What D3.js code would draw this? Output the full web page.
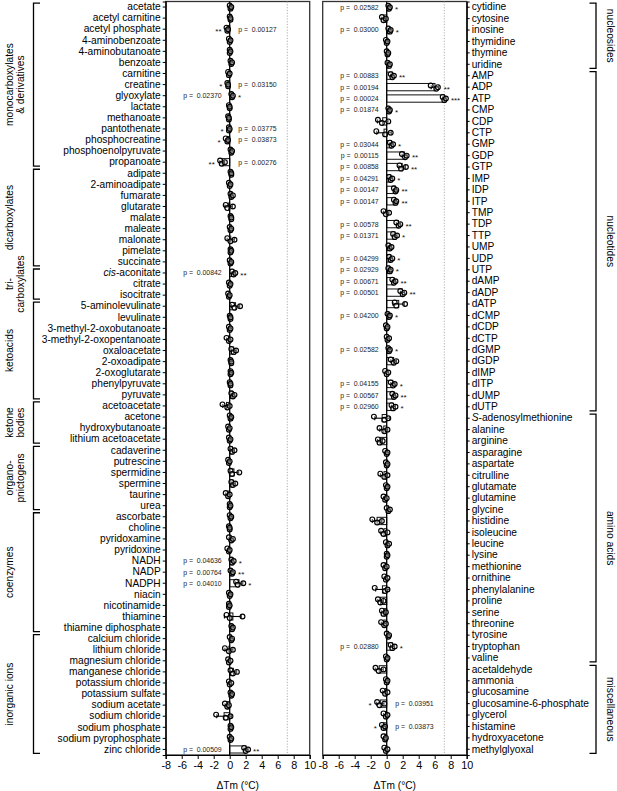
<!DOCTYPE html>
<html><head><meta charset="utf-8">
<script src="https://cdn.jsdelivr.net/npm/d3@7"></script>
<style>
body{margin:0;background:#fff}
svg{display:block}
text{font-family:"Liberation Sans",Arial,Helvetica,sans-serif}
</style>
</head><body><svg id="c" width="617" height="791"></svg>
<script>
// ---------- DATA ----------
const xTicks = [-8,-6,-4,-2,0,2,4,6,8,10];
const thresholdLine = 7.2;

const leftCompounds = ["acetate","acetyl carnitine","acetyl phosphate","4-aminobenzoate","4-aminobutanoate","benzoate","carnitine","creatine","glyoxylate","lactate","methanoate","pantothenate","phosphocreatine","phosphoenolpyruvate","propanoate",
"adipate","2-aminoadipate","fumarate","glutarate","malate","maleate","malonate","pimelate","succinate",
"cis-aconitate","citrate","isocitrate",
"5-aminolevulinate","levulinate","3-methyl-2-oxobutanoate","3-methyl-2-oxopentanoate","oxaloacetate","2-oxoadipate","2-oxoglutarate","phenylpyruvate","pyruvate",
"acetoacetate","acetone","hydroxybutanoate","lithium acetoacetate",
"cadaverine","putrescine","spermidine","spermine","taurine","urea",
"ascorbate","choline","pyridoxamine","pyridoxine","NADH","NADP","NADPH","niacin","nicotinamide","thiamine","thiamine diphosphate",
"calcium chloride","lithium chloride","magnesium chloride","manganese chloride","potassium chloride","potassium sulfate","sodium acetate","sodium chloride","sodium phosphate","sodium pyrophosphate","zinc chloride"];

const leftReplicates = [
[0.0,0.1,0.2],[0.0,0.1,0.1],[-0.4,-0.3,-0.2],[-0.1,0.0,0.1],[0.0,0.0,0.1],[0.1,0.2,0.3],[-0.2,-0.1,0.0],[-0.3,-0.2,-0.2],[0.2,0.3,0.4],[-0.1,0.0,0.0],[-0.2,-0.1,-0.1],[-0.1,-0.1,0.0],[-0.5,-0.3,-0.2],[0.1,0.2,0.3],[-1.2,-1.0,-0.6],
[0.1,0.2,0.2],[-0.1,0.0,0.1],[0.1,0.2,0.4],[-0.5,-0.3,0.4],[0.1,0.2,0.2],[0.0,0.1,0.2],[-0.3,0.1,0.6],[0.1,0.1,0.2],[0.0,0.1,0.2],
[0.3,0.5,0.7],[-0.1,0.0,0.1],[-0.2,-0.1,0.0],
[0.3,0.6,1.3],[0.0,0.1,0.1],[-0.1,0.0,0.1],[-0.4,-0.1,0.1],[0.2,0.5,0.8],[0.1,0.2,0.2],[0.1,0.1,0.2],[0.0,0.1,0.1],[0.2,0.4,0.6],
[-0.9,-0.3,0.0],[0.0,0.1,0.2],[-0.2,-0.1,0.0],[-0.1,0.0,0.1],
[0.1,0.3,0.6],[-0.2,-0.1,0.0],[0.1,0.3,1.2],[0.2,0.4,0.7],[-0.5,-0.2,0.0],[0.0,0.0,0.1],
[0.0,0.1,0.2],[-0.1,0.0,0.0],[-0.1,0.2,0.4],[-0.3,-0.1,0.0],[0.2,0.3,0.5],[0.1,0.3,0.4],[0.8,1.0,1.7],[-0.1,0.0,0.1],[-0.1,-0.1,0.0],[-0.4,0.0,1.6],[0.2,0.3,0.4],
[0.0,0.2,0.3],[-0.6,-0.1,0.4],[-0.2,-0.1,0.1],[0.1,0.4,0.9],[-0.1,0.0,0.2],[0.1,0.2,0.3],[-0.6,-0.3,-0.1],[-1.7,-0.5,0.1],[0.1,0.1,0.2],[0.0,0.1,0.2],[1.8,2.0,2.3]];

const leftSigCompounds = ["acetyl phosphate","creatine","glyoxylate","pantothenate","phosphocreatine","propanoate","cis-aconitate","NADH","NADP","NADPH","zinc chloride"];
const leftPValues = ["0.00127","0.03150","0.02370","0.03775","0.03873","0.00276","0.00842","0.04636","0.00764","0.04010","0.00509"];
const leftStars = ["**","*","*","*","*","**","**","*","**","*","**"];

const leftGroupLabels = [["monocarboxylates","& derivatives"],["dicarboxylates"],["tri-","carboxylates"],["ketoacids"],["ketone","bodies"],["organo-","pnictogens"],["coenzymes"],["inorganic ions"]];
const leftGroupFirst = ["acetate","adipate","cis-aconitate","5-aminolevulinate","acetoacetate","cadaverine","ascorbate","calcium chloride"];
const leftGroupLast = ["propanoate","succinate","isocitrate","pyruvate","lithium acetoacetate","urea","thiamine diphosphate","zinc chloride"];

const rightCompounds = ["cytidine","cytosine","inosine","thymidine","thymine","uridine",
"AMP","ADP","ATP","CMP","CDP","CTP","GMP","GDP","GTP","IMP","IDP","ITP","TMP","TDP","TTP","UMP","UDP","UTP","dAMP","dADP","dATP","dCMP","dCDP","dCTP","dGMP","dGDP","dIMP","dITP","dUMP","dUTP",
"S-adenosylmethionine","alanine","arginine","asparagine","aspartate","citrulline","glutamate","glutamine","glycine","histidine","isoleucine","leucine","lysine","methionine","ornithine","phenylalanine","proline","serine","threonine","tyrosine","tryptophan","valine",
"acetaldehyde","ammonia","glucosamine","glucosamine-6-phosphate","glycerol","histamine","hydroxyacetone","methylglyoxal"];

const rightReplicates = [
[0.2,0.3,0.4],[-0.6,-0.4,-0.1],[0.2,0.4,0.5],[-0.1,0.0,0.1],[0.0,0.1,0.2],[0.1,0.3,0.4],
[0.5,0.7,0.9],[5.5,6.2,6.4],[7.0,7.2,7.4],[0.2,0.3,0.4],[-1.1,-0.6,0.2],[-1.3,-0.2,0.5],[0.4,0.6,0.8],[1.9,2.3,2.5],[1.6,1.8,2.4],[0.3,0.5,0.7],[0.9,1.1,1.2],[0.9,1.1,1.2],[-0.4,-0.1,0.3],[1.2,1.5,1.7],[0.8,1.0,1.3],[0.2,0.4,0.6],[0.3,0.5,0.7],[0.2,0.4,0.5],[0.7,0.9,1.1],[1.7,2.0,2.2],[1.0,1.2,2.3],[0.1,0.3,0.4],[-0.1,0.0,0.1],[0.0,0.1,0.3],[0.2,0.3,0.4],[0.5,0.9,1.2],[-0.2,0.0,0.2],[0.5,0.8,1.0],[0.7,0.9,1.1],[0.6,0.8,1.1],
[-1.6,-0.3,0.2],[-0.9,-0.3,0.1],[-1.1,-0.9,-0.5],[-0.2,0.0,0.1],[-0.1,0.0,0.1],[-0.8,-0.3,0.1],[-0.1,0.0,0.1],[-0.4,-0.2,0.0],[0.0,0.2,0.4],[-1.8,-1.2,-0.6],[-0.7,-0.4,0.1],[-0.1,0.1,0.3],[0.0,0.0,0.1],[-0.4,-0.2,0.0],[-0.3,-0.1,0.1],[-1.5,-0.2,0.1],[-1.1,-0.8,-0.4],[-0.6,-0.4,-0.1],[-0.7,-0.3,-0.1],[0.0,0.2,0.3],[0.5,0.7,1.0],[-0.1,0.0,0.1],
[-1.4,-1.0,-0.4],[-0.1,0.0,0.1],[-0.5,-0.2,0.1],[-1.2,-0.9,-0.3],[-0.4,-0.1,0.1],[-0.6,-0.4,-0.2],[-0.4,-0.2,-0.1],[-0.3,-0.1,0.1]];

const rightSigCompounds = ["cytidine","inosine","AMP","ADP","ATP","CMP","GMP","GDP","GTP","IMP","IDP","ITP","TDP","TTP","UDP","UTP","dAMP","dADP","dCMP","dGMP","dITP","dUMP","dUTP","tryptophan","glucosamine-6-phosphate","histamine"];
const rightPValues = ["0.02582","0.03000","0.00883","0.00194","0.00024","0.01874","0.03044","0.00115","0.00858","0.04291","0.00147","0.00147","0.00578","0.01371","0.04299","0.02929","0.00671","0.00501","0.04200","0.02582","0.04155","0.00567","0.02960","0.02880","0.03951","0.03873"];
const rightStars = ["*","*","**","**","***","*","*","**","**","*","**","**","**","*","*","*","**","**","*","*","*","**","*","*","*","*"];

const rightGroupLabels = [["nucleosides"],["nucleotides"],["amino acids"],["miscellaneous"]];
const rightGroupFirst = ["cytidine","AMP","S-adenosylmethionine","acetaldehyde"];
const rightGroupLast = ["uridine","dUTP","valine","methylglyoxal"];

// ---------- DRAWING ----------
const svg = d3.select("#c");
const plotTop = 1.5, plotBottom = 755;
const jitter = [-1.6, 1.6, 0];

function drawPanel(o) {
  const x = d3.scaleLinear().domain([-8,10]).range(o.xr);
  const y = d3.scaleBand().domain(o.compounds).range([plotTop, plotBottom]).paddingInner(0).paddingOuter(0);
  const step = y.step();
  const g = svg.append("g");

  g.append("rect").attr("x", o.xr[0]).attr("y", plotTop).attr("width", o.xr[1]-o.xr[0]).attr("height", plotBottom-plotTop)
    .attr("fill","none").attr("stroke","#333").attr("stroke-width",1.3);

  g.append("line").attr("x1", x(thresholdLine)).attr("x2", x(thresholdLine)).attr("y1", plotTop).attr("y2", plotBottom)
    .attr("stroke","#999").attr("stroke-width",0.8).attr("stroke-dasharray","1.2,1.6");

  const rows = o.compounds.map((c,i) => {
    const v = o.reps[i];
    return {c, v, mean: d3.mean(v), sd: d3.deviation(v)};
  });

  const bh = step*0.64;
  g.selectAll("rect.bar").data(rows).join("rect").attr("class","bar")
    .attr("x", d => Math.min(x(0), x(d.mean)))
    .attr("width", d => Math.abs(x(d.mean)-x(0)))
    .attr("y", d => y(d.c) + step/2 - bh/2)
    .attr("height", bh)
    .attr("fill","#fff").attr("stroke","#111").attr("stroke-width",1);

  g.append("line").attr("x1", x(0)).attr("x2", x(0)).attr("y1", plotTop).attr("y2", plotBottom)
    .attr("stroke","#000").attr("stroke-width",1.3);

  const eb = g.selectAll("g.eb").data(rows).join("g").attr("class","eb");
  eb.append("line")
    .attr("x1", d => x(d.mean - d.sd)).attr("x2", d => x(d.mean + d.sd))
    .attr("y1", d => y(d.c)+step/2).attr("y2", d => y(d.c)+step/2)
    .attr("stroke","#000").attr("stroke-width",1.1);
  [-1,1].forEach(s => {
    eb.append("line")
      .attr("x1", d => x(d.mean + s*d.sd)).attr("x2", d => x(d.mean + s*d.sd))
      .attr("y1", d => y(d.c)+step/2-2).attr("y2", d => y(d.c)+step/2+2)
      .attr("stroke","#000").attr("stroke-width",1.1);
  });

  const pts = [];
  rows.forEach(r => r.v.forEach((val,k) => pts.push({c:r.c, val, k})));
  g.selectAll("circle.pt").data(pts).join("circle").attr("class","pt")
    .attr("cx", d => x(d.val)).attr("cy", d => y(d.c)+step/2 + jitter[d.k])
    .attr("r", 2.4).attr("fill","rgba(255,255,255,0.3)").attr("stroke","#000").attr("stroke-width",1.15);

  o.sig.forEach((c,i) => {
    const r = rows.find(d => d.c === c);
    const cy = y(c) + step/2;
    const lo = Math.min(d3.min(r.v), r.mean - r.sd), hi = Math.max(d3.max(r.v), r.mean + r.sd);
    const pos = r.mean >= 0;
    g.append("text").attr("x", pos ? x(hi)+5 : x(lo)-5).attr("y", cy+4.6)
      .attr("text-anchor", pos ? "start" : "end").attr("font-size",8).attr("fill","#111").text(o.stars[i]);
    g.append("text").attr("x", pos ? x(0)-8 : x(0)+8.5).attr("y", cy+2.4)
      .attr("text-anchor", pos ? "end" : "start").attr("font-size",6.9).attr("fill","#222")
      .style("white-space","pre").text("p =  " + o.pv[i]);
  });

  const yAxis = (o.side === "left" ? d3.axisLeft(y) : d3.axisRight(y)).tickSize(3).tickPadding(2);
  const ya = g.append("g").attr("transform", `translate(${o.side==="left"?o.xr[0]:o.xr[1]},0)`).call(yAxis);
  ya.select(".domain").attr("stroke","#000").attr("stroke-width",1.2);
  ya.selectAll(".tick line").attr("stroke","#000");
  ya.selectAll(".tick text").attr("font-size",10.2).attr("fill","#000")
    .attr("font-family","'Liberation Sans',Arial,Helvetica,sans-serif")
    .each(function(d){
      const t = d3.select(this);
      const m = d.match(/^(cis|S)(-.*)$/);
      if (m) {
        t.text(null);
        t.append("tspan").attr("font-style","italic").text(m[1]);
        t.append("tspan").text(m[2]);
      }
    });

  const xa = g.append("g").attr("transform", `translate(0,${plotBottom})`)
    .call(d3.axisBottom(x).tickValues(xTicks).tickSize(4).tickPadding(2).tickFormat(d => String(d)));
  xa.select(".domain").attr("stroke","#000").attr("stroke-width",1.2);
  xa.selectAll(".tick line").attr("stroke","#000");
  xa.selectAll(".tick text").attr("font-size",10.8).attr("fill","#000")
    .attr("font-family","'Liberation Sans',Arial,Helvetica,sans-serif");
  g.append("text").attr("x",(o.xr[0]+o.xr[1])/2).attr("y",788.5).attr("text-anchor","middle")
    .attr("font-size",10.2).text("\u0394Tm (\u00B0C)");

  o.gFirst.forEach((f,i) => {
    const y0 = y(f) + step/2 - 4;
    const y1 = y(o.gLast[i]) + step/2 + 4;
    const bx = o.bracketX, tx = o.bracketX + o.tickDir*6.5;
    g.append("path").attr("d", `M${tx},${y0}H${bx}V${y1}H${tx}`)
      .attr("fill","none").attr("stroke","#000").attr("stroke-width",1.3);
    const cy = (y0+y1)/2;
    o.gLabels[i].forEach((ln,j) => {
      g.append("text").attr("transform", `translate(${o.labelX[j]},${cy}) rotate(${o.rot})`)
        .attr("text-anchor","middle").attr("dy","0.35em").attr("font-size",10.2).text(ln);
    });
  });
}

drawPanel({compounds:leftCompounds, reps:leftReplicates, xr:[165.7,309.7], side:"left",
  sig:leftSigCompounds, pv:leftPValues, stars:leftStars,
  gLabels:leftGroupLabels, gFirst:leftGroupFirst, gLast:leftGroupLast,
  bracketX:33.5, tickDir:1, labelX:[9.5,20.5], rot:-90});

drawPanel({compounds:rightCompounds, reps:rightReplicates, xr:[322.7,466.7], side:"right",
  sig:rightSigCompounds, pv:rightPValues, stars:rightStars,
  gLabels:rightGroupLabels, gFirst:rightGroupFirst, gLast:rightGroupLast,
  bracketX:596, tickDir:-1, labelX:[611], rot:90});
</script></body></html>
